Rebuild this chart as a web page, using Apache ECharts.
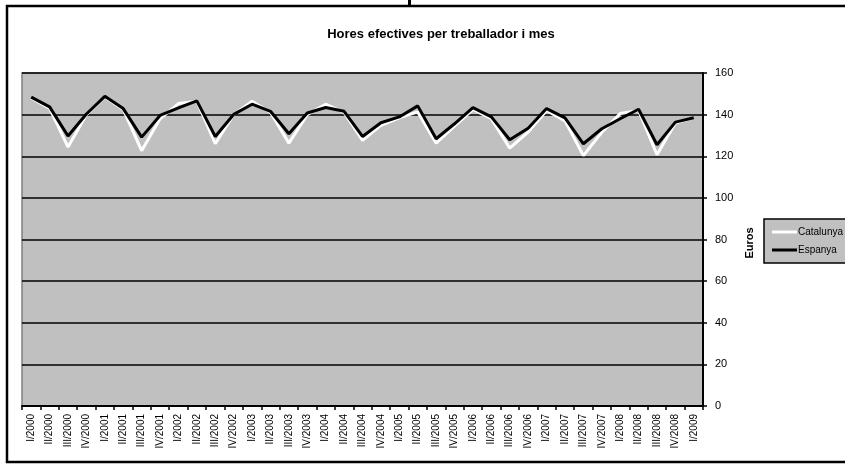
<!DOCTYPE html>
<html>
<head>
<meta charset="utf-8">
<script src="https://cdn.jsdelivr.net/npm/echarts@6/dist/echarts.min.js"></script>
<style>
html,body{margin:0;padding:0;background:#fff;}
#chart{width:845px;height:466px;}
</style>
</head>
<body>
<div id="chart"></div>
<script>
const categories = [
  'I/2000','II/2000','III/2000','IV/2000',
  'I/2001','II/2001','III/2001','IV/2001',
  'I/2002','II/2002','III/2002','IV/2002',
  'I/2003','II/2003','III/2003','IV/2003',
  'I/2004','II/2004','III/2004','IV/2004',
  'I/2005','II/2005','III/2005','IV/2005',
  'I/2006','II/2006','III/2006','IV/2006',
  'I/2007','II/2007','III/2007','IV/2007',
  'I/2008','II/2008','III/2008','IV/2008',
  'I/2009'
];
const catalunya = [
  148, 143, 124.4, 140,
  148.5, 142.5, 122.7, 138,
  145.3, 146.4, 126, 140,
  146.4, 141, 126.3, 140,
  145, 141, 127.6, 134.8,
  138.5, 141.3, 126.3, 134.5,
  142.5, 138, 123.9, 131.6,
  142, 137, 120.3, 131.5,
  140.5, 142, 120.7, 136,
  138.5
];
const espanya = [
  148.4, 143.7, 129.7, 140.3,
  148.8, 142.9, 129.2, 139.6,
  143.2, 146.6, 129.5, 140.1,
  145, 141.6, 130.8, 140.8,
  143.4, 141.6, 129.5, 136.1,
  138.9, 144.2, 128.4, 135.6,
  143.4, 138.9, 127.9, 133.5,
  142.9, 138.4, 126, 133.2,
  138, 142.6, 125.5, 136.4,
  138.5
];
const yTicks = [0, 20, 40, 60, 80, 100, 120, 140, 160];

const chart = echarts.init(document.getElementById('chart'), null, {renderer: 'canvas'});
const FONT = 'Liberation Sans, Arial, sans-serif';
chart.setOption({
  animation: false,
  backgroundColor: '#ffffff',
  title: {
    text: 'Hores efectives per treballador i mes',
    left: 436,
    textAlign: 'center',
    top: 23,
    textStyle: {fontFamily: FONT, fontSize: 13, fontWeight: 'bold', color: '#000'}
  },
  graphic: [
    {type: 'rect', shape: {x: 7, y: 6, width: 850, height: 456},
     style: {fill: 'none', stroke: '#000', lineWidth: 2.5}, z: 100},
    {type: 'rect', shape: {x: 408, y: 0, width: 3, height: 6},
     style: {fill: '#000'}, z: 100}
  ],
  legend: {
    data: ['Catalunya', 'Espanya'],
    orient: 'vertical',
    left: 764,
    top: 219,
    icon: 'rect',
    itemWidth: 25,
    itemHeight: 3,
    itemGap: 8,
    padding: [8, 12, 8, 8],
    backgroundColor: '#C0C0C0',
    borderColor: '#000',
    borderWidth: 1.5,
    borderRadius: 0,
    textStyle: {fontFamily: FONT, fontSize: 10, color: '#000', padding: [0, 0, 0, -4]}
  },
  grid: {
    left: 22, top: 73, width: 681, height: 333,
    show: true,
    backgroundColor: '#C0C0C0',
    borderColor: '#808080',
    borderWidth: 1.5
  },
  xAxis: {
    type: 'category',
    data: categories,
    boundaryGap: true,
    axisLine: {show: true, lineStyle: {color: '#000', width: 2}},
    axisTick: {show: true, length: 4, lineStyle: {color: '#000', width: 1.5}},
    axisLabel: {
      rotate: 90, interval: 0, margin: 8,
      fontFamily: FONT, fontSize: 10, color: '#000'
    },
    splitLine: {show: false}
  },
  yAxis: {
    type: 'value',
    position: 'right',
    min: 0, max: 160, interval: 20,
    name: 'Euros',
    nameLocation: 'middle',
    nameRotate: 90,
    nameGap: 40,
    nameTextStyle: {fontFamily: FONT, fontSize: 11, fontWeight: 'bold', color: '#000', padding: [0, 7, 0, 0]},
    axisLine: {show: true, lineStyle: {color: '#000', width: 2}},
    axisTick: {show: true, length: 4, lineStyle: {color: '#000', width: 1.5}},
    axisLabel: {
      margin: 12, fontFamily: FONT, fontSize: 11, color: '#000',
      formatter: v => yTicks.includes(v) ? String(v) : ''
    },
    splitLine: {show: true, lineStyle: {color: '#000', width: 1.5}}
  },
  series: [
    {
      name: 'Catalunya', type: 'line', data: catalunya,
      symbol: 'none', z: 2,
      lineStyle: {color: '#ffffff', width: 3},
      itemStyle: {color: '#ffffff'}
    },
    {
      name: 'Espanya', type: 'line', data: espanya,
      symbol: 'none', z: 3,
      lineStyle: {color: '#000000', width: 3},
      itemStyle: {color: '#000000'}
    }
  ]
});
</script>
</body>
</html>
